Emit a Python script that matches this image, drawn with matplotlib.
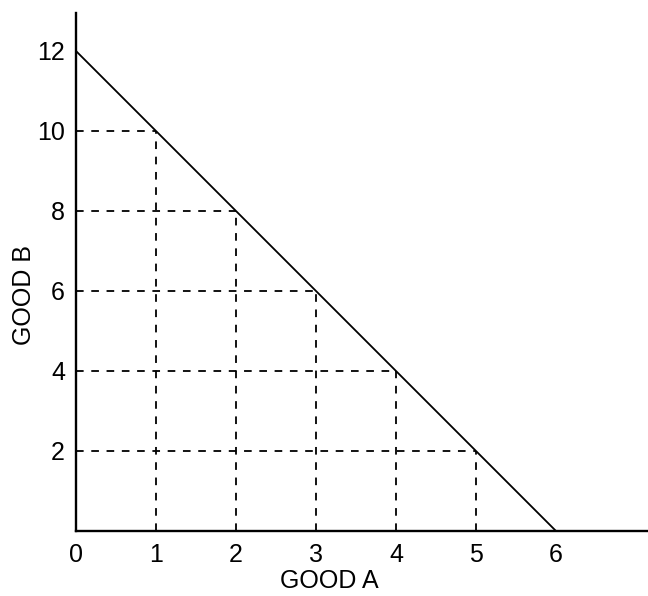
import matplotlib
matplotlib.use("Agg")
import matplotlib.pyplot as plt

plt.rcParams["font.family"] = ["Liberation Sans", "DejaVu Sans"]
plt.rcParams["lines.scale_dashes"] = False

# Production possibilities
good_a = [0, 1, 2, 3, 4, 5, 6]
good_b = [12, 10, 8, 6, 4, 2, 0]
x_ticks = [0, 1, 2, 3, 4, 5, 6]
y_ticks = [2, 4, 6, 8, 10, 12]

fig = plt.figure(figsize=(6.48, 5.96), dpi=100)
ax = fig.add_axes([76 / 648, 65 / 596, 572 / 648, 518 / 596])

# frontier
ax.plot(good_a, good_b, color="black", lw=1.3, solid_capstyle="butt")

# dashed guides to each interior point
for a, b in zip(good_a[1:-1], good_b[1:-1]):
    ax.plot([0, a], [b, b], color="black", lw=1.3, dashes=(5.5, 5.5))
    ax.plot([a, a], [0, b], color="black", lw=1.3, dashes=(5.5, 5.5))

ax.set_xlim(0, 7.15)
ax.set_ylim(0, 12.95)
ax.set_xticks(x_ticks)
ax.set_yticks(y_ticks)
ax.tick_params(length=0, labelsize=18, pad=8)
ax.tick_params(axis="x", pad=9)

for side in ["top", "right"]:
    ax.spines[side].set_visible(False)
for side in ["left", "bottom"]:
    ax.spines[side].set_linewidth(1.7)

ax.text(3.17, -1.25, "GOOD A", fontsize=18, ha="center", va="center", clip_on=False)
ax.text(-0.65, 5.9, "GOOD B", fontsize=18, ha="center", va="center",
        rotation=90, clip_on=False)

fig.savefig("out.png", dpi=100)
